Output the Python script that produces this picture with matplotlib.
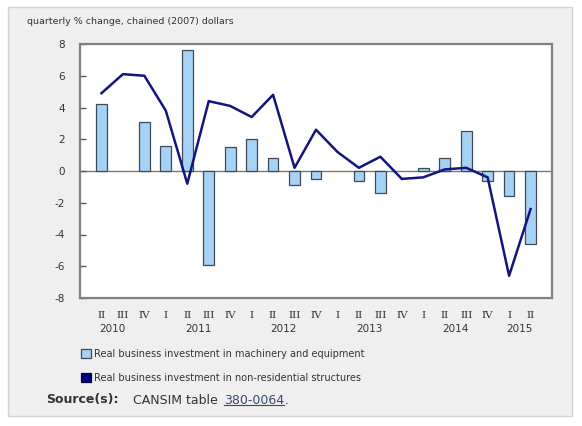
import matplotlib
matplotlib.use('Agg')
import matplotlib.pyplot as plt
import numpy as np
from matplotlib.patches import Rectangle, Patch
from matplotlib.lines import Line2D
from matplotlib.transforms import blended_transform_factory

plt.rcParams['axes.unicode_minus'] = False

# quarters 2010 Q2 .. 2015 Q2
quarters = ['II', 'III', 'IV', 'I', 'II', 'III', 'IV', 'I', 'II', 'III', 'IV',
            'I', 'II', 'III', 'IV', 'I', 'II', 'III', 'IV', 'I', 'II']
years = ['2010', '2011', '2012', '2013', '2014', '2015']
year_pos = [0.5, 4.5, 8.5, 12.5, 16.5, 19.5]

# nan = no visible bar in the reference
machinery = [4.2, np.nan, 3.1, 1.6, 7.6, -5.9, 1.5, 2.0, 0.8, -0.9, -0.5,
             np.nan, -0.6, -1.4, np.nan, 0.2, 0.8, 2.5, -0.6, -1.6, -4.6]
structures = [4.9, 6.1, 6.0, 3.8, -0.8, 4.4, 4.1, 3.4, 4.8, 0.2, 2.6,
              1.2, 0.2, 0.9, -0.5, -0.4, 0.1, 0.2, -0.4, -6.6, -2.4]

bar_color = '#a6d2f6'
line_color = '#14147e'
W, H = 582, 426

fig = plt.figure(figsize=(W / 100, H / 100), dpi=100)
fig.patch.set_facecolor('white')

# grey panel behind everything
fig.patches.append(Rectangle((8 / W, 1 - 416 / H), 564 / W, 409 / H,
                             transform=fig.transFigure, facecolor='#efefef',
                             edgecolor='#d2d2d2', lw=1, zorder=-10))

ax = fig.add_axes([80 / W, 1 - 298 / H, 472 / W, 254 / H])
x = np.arange(len(quarters))
ax.bar(x, machinery, width=0.5, color=bar_color, edgecolor='#3d4a57', lw=0.9, zorder=2)
ax.plot(x, structures, color=line_color, lw=1.8, zorder=3)
ax.axhline(0, color='#7a7a7a', lw=1, zorder=1)

ax.set_xlim(-1, 21)
ax.set_ylim(-8, 8)
ax.set_yticks(range(-8, 9, 2))
ax.tick_params(axis='y', direction='in', length=4, width=1, colors='#555555',
               labelsize=7.5, labelcolor='#333333', pad=11)
ax.set_xticks(x)
ax.set_xticklabels(quarters, family='DejaVu Serif', fontsize=7.5, color='#333333')
ax.tick_params(axis='x', length=0, pad=9)
for s in ax.spines.values():
    s.set_color('#808080')
    s.set_linewidth(1.6)

trans = blended_transform_factory(ax.transData, fig.transFigure)
for yr, p in zip(years, year_pos):
    fig.text(p, 1 - 329 / H, yr, transform=trans, ha='center', va='center',
             fontsize=7.5, color='#333333')

fig.text(27 / W, 1 - 22 / H, 'quarterly % change, chained (2007) dollars',
         fontsize=6.8, color='#333333', va='center')

handles = [Patch(facecolor=bar_color, edgecolor='#3d4a57', lw=0.9),
           Patch(facecolor='#00007a', edgecolor='#00004a', lw=0.9)]
labels = ['Real business investment in machinery and equipment',
          'Real business investment in non-residential structures']
fig.legend(handles, labels, loc='upper left', bbox_to_anchor=(76 / W, 1 - 344 / H),
           frameon=False, fontsize=7, handlelength=1.0, handleheight=1.0,
           handletextpad=0.4, labelspacing=1.45, borderpad=0, labelcolor='#333333')

fig.text(46 / W, 1 - 400 / H, 'Source(s):', fontsize=9, fontweight='bold',
         color='#333333', va='center')
fig.text(133 / W, 1 - 400 / H, 'CANSIM table', fontsize=9, color='#333333', va='center')
link = fig.text(224 / W, 1 - 400 / H, '380-0064', fontsize=9, color='#3a4a6a', va='center')
fig.text(285 / W, 1 - 400 / H, '.', fontsize=9, color='#333333', va='center')

fig.canvas.draw()
bb = link.get_window_extent()
fig.add_artist(Line2D([bb.x0 / W, bb.x1 / W], [(bb.y0 + 1.5) / H] * 2,
                      transform=fig.transFigure, color='#3a4a6a', lw=0.8))

fig.savefig('out.png', dpi=100, facecolor=fig.get_facecolor())
